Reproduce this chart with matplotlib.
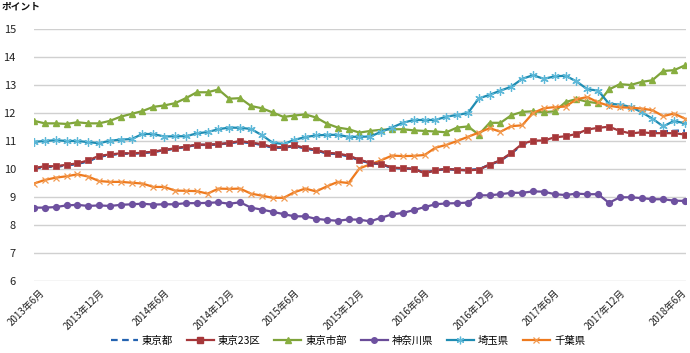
import matplotlib
matplotlib.use("Agg")
import matplotlib.pyplot as plt
from matplotlib.lines import Line2D
from matplotlib.transforms import ScaledTranslation

plt.rcParams['font.family'] = ['Noto Sans CJK JP', 'DejaVu Sans']

tick_labels = ["2013年6月", "2013年12月", "2014年6月", "2014年12月", "2015年6月",
               "2015年12月", "2016年6月", "2016年12月", "2017年6月", "2017年12月", "2018年6月"]

tokyo23 = [10.03, 10.10, 10.10, 10.15, 10.20, 10.31, 10.47, 10.52, 10.56, 10.56,
           10.58, 10.62, 10.68, 10.74, 10.80, 10.87, 10.87, 10.89, 10.93, 11.00,
           10.94, 10.89, 10.78, 10.78, 10.84, 10.76, 10.68, 10.58, 10.55, 10.48,
           10.33, 10.22, 10.18, 10.05, 10.03, 10.01, 9.85, 9.95, 10.01, 9.97,
           9.95, 9.98, 10.16, 10.31, 10.58, 10.90, 11.01, 11.02, 11.13, 11.17,
           11.25, 11.41, 11.47, 11.51, 11.36, 11.27, 11.31, 11.28, 11.28, 11.28,
           11.23]

tokyo = [10.01, 10.08, 10.08, 10.13, 10.18, 10.28, 10.44, 10.50, 10.55, 10.55,
         10.57, 10.61, 10.67, 10.73, 10.79, 10.86, 10.86, 10.88, 10.92, 10.98,
         10.92, 10.87, 10.76, 10.76, 10.82, 10.74, 10.66, 10.56, 10.53, 10.46,
         10.31, 10.21, 10.17, 10.04, 10.02, 10.00, 9.87, 9.95, 10.00, 9.97,
         9.96, 9.99, 10.15, 10.30, 10.56, 10.87, 10.99, 11.01, 11.12, 11.16,
         11.24, 11.40, 11.46, 11.50, 11.38, 11.30, 11.33, 11.33, 11.35, 11.36,
         11.37]

tokyo_shibu = [11.72, 11.63, 11.63, 11.61, 11.67, 11.63, 11.63, 11.72, 11.87, 11.97,
               12.07, 12.22, 12.27, 12.35, 12.53, 12.74, 12.74, 12.84, 12.51, 12.53,
               12.25, 12.17, 12.02, 11.86, 11.91, 11.95, 11.84, 11.62, 11.48, 11.42,
               11.30, 11.36, 11.40, 11.42, 11.42, 11.38, 11.36, 11.34, 11.31, 11.48,
               11.52, 11.23, 11.65, 11.65, 11.92, 12.04, 12.06, 12.03, 12.06, 12.39,
               12.50, 12.40, 12.35, 12.84, 13.03, 13.00, 13.11, 13.17, 13.50, 13.53,
               13.70]

kanagawa = [8.62, 8.62, 8.64, 8.70, 8.72, 8.68, 8.70, 8.68, 8.72, 8.74,
            8.76, 8.73, 8.74, 8.74, 8.78, 8.78, 8.79, 8.81, 8.76, 8.81,
            8.62, 8.55, 8.47, 8.39, 8.31, 8.31, 8.22, 8.18, 8.15, 8.20,
            8.19, 8.13, 8.26, 8.38, 8.43, 8.53, 8.64, 8.74, 8.77, 8.78,
            8.80, 9.06, 9.06, 9.10, 9.15, 9.15, 9.20, 9.19, 9.10, 9.07,
            9.12, 9.10, 9.10, 8.79, 8.99, 8.99, 8.96, 8.92, 8.92, 8.87,
            8.86]

saitama = [10.97, 11.00, 11.03, 11.00, 11.00, 10.96, 10.92, 11.01, 11.05, 11.07,
           11.25, 11.25, 11.16, 11.17, 11.17, 11.27, 11.32, 11.42, 11.48, 11.47,
           11.43, 11.21, 10.94, 10.89, 11.04, 11.14, 11.20, 11.22, 11.22, 11.15,
           11.15, 11.16, 11.33, 11.48, 11.65, 11.75, 11.75, 11.75, 11.87, 11.93,
           12.00, 12.52, 12.65, 12.80, 12.94, 13.22, 13.35, 13.22, 13.31, 13.33,
           13.13, 12.85, 12.80, 12.33, 12.30, 12.22, 12.03, 11.80, 11.52, 11.72,
           11.63]

chiba = [9.48, 9.61, 9.69, 9.74, 9.81, 9.73, 9.57, 9.54, 9.54, 9.51,
         9.48, 9.36, 9.36, 9.23, 9.22, 9.21, 9.12, 9.30, 9.29, 9.30,
         9.12, 9.05, 8.97, 8.97, 9.17, 9.30, 9.20, 9.38, 9.54, 9.50,
         10.02, 10.17, 10.31, 10.48, 10.46, 10.47, 10.50, 10.76, 10.86, 11.00,
         11.15, 11.30, 11.46, 11.33, 11.53, 11.56, 12.00, 12.17, 12.21, 12.23,
         12.49, 12.57, 12.38, 12.26, 12.20, 12.19, 12.16, 12.10, 11.89, 11.98,
         11.80]

yticks = [6, 7, 8, 9, 10, 11, 12, 13, 14, 15]

W, H = 690, 353
fig = plt.figure(figsize=(W / 100, H / 100), dpi=100)
ax = fig.add_axes([34 / W, 1 - 281 / H, (686 - 34) / W, (281 - 29) / H])

x = list(range(len(tokyo23)))

lw = 1.6
ax.plot(x, tokyo, color='#2463B0', lw=lw, ls=(0, (3, 2)), zorder=3, label='東京都')
ax.plot(x, tokyo23, color='#A6373A', lw=lw, marker='s', ms=4.5, mfc='#A6373A',
        mec='#B04A4C', mew=0.6, zorder=4, label='東京23区')
ax.plot(x, tokyo_shibu, color='#7EA33A', lw=lw, marker='^', ms=4.5, mfc='#88AE40',
        mec='#88AE40', zorder=3, label='東京市部')
ax.plot(x, kanagawa, color='#6A4C98', lw=lw, marker='o', ms=4.2, mfc='#6E51A0',
        mec='#6E51A0', zorder=3, label='神奈川県')
ax.plot(x, saitama, color='#1F8CB2', lw=lw, marker=(6, 2, 0), ms=6, mec='#5DB8D8',
        mew=0.9, zorder=3, label='埼玉県')
ax.plot(x, chiba, color='#EE7A1E', lw=lw, marker='x', ms=5, mec='#F29A50',
        mew=0.9, zorder=3, label='千葉県')

ax.plot(x, tokyo, color='#2463B0', lw=lw, ls=(0, (3, 2)), zorder=3.5)

ax.set_xlim(0, 60.1)
ax.set_ylim(6, 15)
ax.set_yticks(yticks)
ax.set_yticklabels([str(v) for v in yticks], fontsize=8, color='#222222')
ax.yaxis.grid(True, color='#D0D0D0', lw=1.0)
ax.set_axisbelow(True)
for s in ax.spines.values():
    s.set_visible(False)
ax.tick_params(axis='y', length=0, pad=13)
ax.tick_params(axis='x', length=0, pad=5)

ax.set_xticks(list(range(0, 61, 6)))
ax.set_xticklabels(tick_labels, rotation=45, ha='right', va='top',
                   rotation_mode='anchor', fontsize=7, color='#222222')
xlabs = ax.get_xticklabels()
for k, lab in enumerate(xlabs):
    if k == 0:
        dx = 5.5
    elif k == len(xlabs) - 1:
        dx = -4
    else:
        dx = 0
    lab.set_transform(lab.get_transform() + ScaledTranslation(dx / 100, 0, fig.dpi_scale_trans))

fig.text(2 / W, 1 - 7 / H, 'ポイント', fontsize=7, fontweight='bold',
         ha='left', va='center', color='#111111')

handles = [
    Line2D([], [], color='#2463B0', lw=lw, ls=(0, (3, 2))),
    Line2D([], [], color='#A6373A', lw=lw, marker='s', ms=4, mfc='#A6373A', mec='#A6373A'),
    Line2D([], [], color='#7EA33A', lw=lw, marker='^', ms=4, mfc='#88AE40', mec='#88AE40'),
    Line2D([], [], color='#6A4C98', lw=lw, marker='o', ms=4, mfc='#6E51A0', mec='#6E51A0'),
    Line2D([], [], color='#1F8CB2', lw=lw, marker=(6, 2, 0), ms=5.5, mec='#5DB8D8', mew=0.9),
    Line2D([], [], color='#EE7A1E', lw=lw, marker='x', ms=4.5, mec='#F29A50', mew=0.9),
]
labels = ['東京都', '東京23区', '東京市部', '神奈川県', '埼玉県', '千葉県']
fig.legend(handles, labels, loc='center', bbox_to_anchor=(348 / W, 1 - 341 / H),
           ncol=6, frameon=False, fontsize=7.5, handlelength=2.6, handletextpad=0.4,
           columnspacing=1.3, borderaxespad=0)

fig.savefig('out.png', dpi=100)
